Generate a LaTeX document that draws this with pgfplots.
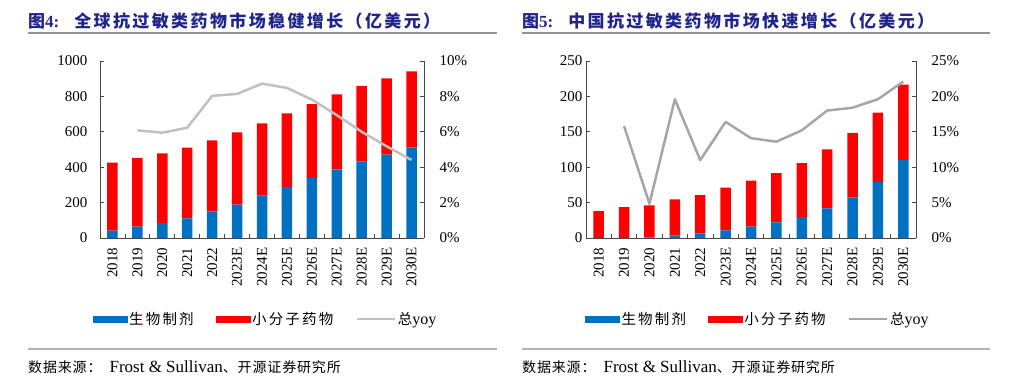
\documentclass[border=0pt]{standalone}
\usepackage{fontspec}
\setmainfont{Liberation Serif}
\newfontfamily\cjkt[LetterSpace=14]{Noto Sans CJK SC}
\newfontfamily\cjkl[LetterSpace=15]{Noto Sans CJK SC}
\newfontfamily\cjks[LetterSpace=6]{Noto Sans CJK SC}
\usepackage{pgfplots}
\pgfplotsset{compat=1.18}
\definecolor{bblue}{RGB}{0,112,192}
\definecolor{rred}{RGB}{255,0,0}
\definecolor{lgray}{RGB}{192,192,192}
\definecolor{dgray}{RGB}{166,166,166}
\definecolor{ttl}{RGB}{32,36,140}
\definecolor{axc}{RGB}{70,70,70}
\pgfplotsset{
  base/.style={scale only axis, xmin=-0.5, xmax=12.5,
    axis line style={axc, line width=0.8pt},
    tick style={axc, line width=0.8pt},
    major tick length=4pt, minor tick length=4pt, tick align=inside,
    tick label style={font=\fontsize{15}{17}\selectfont},
    /pgf/number format/assume math mode=true,
    /pgf/number format/1000 sep={},
    clip=false},
  barax/.style={base, axis y line*=left, axis x line*=bottom,
    ybar stacked, bar width=10.5pt,
    xtick={0,...,12},
    xticklabels={2018,2019,2020,2021,2022,2023E,2024E,2025E,2026E,2027E,2028E,2029E,2030E},
    xticklabel style={yshift=-6pt, rotate=90, anchor=east},
    major x tick style={draw=none},
    minor xtick={-0.5,0.5,...,12.5},
    legend style={draw=none, fill=none, legend columns=3,
      font=\fontsize{14.5}{16}\selectfont,
      nodes={inner sep=2pt},
      /tikz/every even column/.append style={column sep=20pt}}},
  lineax/.style={base, axis y line*=right, axis x line=none,
    yticklabel={\pgfmathprintnumber{\tick}\%},
    yticklabel style={xshift=12pt}},
}
\begin{document}
\begin{tikzpicture}[x=1pt,y=1pt]
\useasboundingbox (0pt,0pt) rectangle (1018pt,387pt);
% titles
\node[anchor=west, inner sep=0, text=ttl, font=\fontsize{17}{20}\selectfont] at (28pt,366pt)
  {{\cjkt\bfseries 图}{\rmfamily\bfseries 4:}\hspace{15pt}{\cjkt\bfseries 全球抗过敏类药物市场稳健增长（亿美元）}};
\node[anchor=west, inner sep=0, text=ttl, font=\fontsize{17}{20}\selectfont] at (522pt,366pt)
  {{\cjkt\bfseries 图}{\rmfamily\bfseries 5:}\hspace{15pt}{\cjkt\bfseries 中国抗过敏类药物市场快速增长（亿美元）}};
\draw[gray!85, line width=2pt] (28pt,354pt) -- (497pt,354pt);
\draw[gray!85, line width=2pt] (522pt,354pt) -- (990pt,354pt);
\draw[gray!60, line width=1.4pt] (28pt,38pt) -- (497pt,38pt);
\draw[gray!60, line width=1.4pt] (522pt,38pt) -- (990pt,38pt);
\node[anchor=west, inner sep=0, font=\fontsize{17}{19}\selectfont] at (28pt,20pt)
  {{\fontsize{14}{16}\selectfont\cjks 数据来源：}\hspace{8pt}Frost \& Sullivan{\fontsize{14}{16}\selectfont\cjks 、开源证券研究所}};
\node[anchor=west, inner sep=0, font=\fontsize{17}{19}\selectfont] at (522pt,20pt)
  {{\fontsize{14}{16}\selectfont\cjks 数据来源：}\hspace{8pt}Frost \& Sullivan{\fontsize{14}{16}\selectfont\cjks 、开源证券研究所}};

% ---------- left chart ----------
\begin{axis}[barax, at={(100pt,149pt)}, anchor=south west, width=324pt, height=177pt,
  ymin=0, ymax=1000, ytick={0,200,...,1000}, yticklabel style={xshift=-9pt},
  legend style={at={(0.511,-0.458)}, anchor=center}]
\addplot[fill=bblue, draw=none, forget plot] coordinates {
(0,41) (1,64) (2,86) (3,111) (4,150) (5,188) (6,240) (7,289) (8,338) (9,388) (10,433) (11,471) (12,510)};
\addplot[fill=rred, draw=none, forget plot] coordinates {
(0,385) (1,388) (2,392) (3,399) (4,402) (5,409) (6,407) (7,415) (8,418) (9,423) (10,426) (11,431) (12,432)};
\addlegendimage{legend image code/.code={\fill[bblue] (0pt,-3pt) rectangle (34pt,3pt);}}
\addlegendentry{\cjkl 生物制剂}
\addlegendimage{legend image code/.code={\fill[rred] (0pt,-3pt) rectangle (34pt,3pt);}}
\addlegendentry{\cjkl 小分子药物}
\addlegendimage{legend image code/.code={\draw[lgray, line width=2.5pt] (0pt,0pt) -- (38pt,0pt);}}
\addlegendentry{{\cjkl 总}{\fontsize{16}{17}\selectfont yoy}}
\end{axis}
\begin{axis}[lineax, at={(100pt,149pt)}, anchor=south west, width=324pt, height=177pt,
  ymin=0, ymax=10, ytick={0,2,...,10}]
\addplot[lgray, line width=2.5pt, line join=round, mark=none] coordinates {
(1,6.08) (2,5.95) (3,6.23) (4,8.03) (5,8.14) (6,8.72) (7,8.48) (8,7.82) (9,6.94) (10,6.0) (11,5.18) (12,4.41)};
\end{axis}

% ---------- right chart ----------
\begin{axis}[barax, at={(586pt,149pt)}, anchor=south west, width=330pt, height=177pt,
  ymin=0, ymax=250, ytick={0,50,...,250}, yticklabel style={xshift=0pt},
  legend style={at={(0.521,-0.458)}, anchor=center}]
\addplot[fill=bblue, draw=none, forget plot] coordinates {
(0,0.2) (1,0.3) (2,0.5) (3,3.8) (4,6.6) (5,10.8) (6,16) (7,22) (8,29.6) (9,42) (10,57) (11,79) (12,110)};
\addplot[fill=rred, draw=none, forget plot] coordinates {
(0,37.8) (1,43.4) (2,45.5) (3,50.7) (4,54) (5,60.2) (6,65) (7,69.6) (8,76.1) (9,83) (10,91.5) (11,98) (12,106.6)};
\addlegendimage{legend image code/.code={\fill[bblue] (0pt,-3pt) rectangle (34pt,3pt);}}
\addlegendentry{\cjkl 生物制剂}
\addlegendimage{legend image code/.code={\fill[rred] (0pt,-3pt) rectangle (34pt,3pt);}}
\addlegendentry{\cjkl 小分子药物}
\addlegendimage{legend image code/.code={\draw[dgray, line width=2.5pt] (0pt,0pt) -- (38pt,0pt);}}
\addlegendentry{{\cjkl 总}{\fontsize{16}{17}\selectfont yoy}}
\end{axis}
\begin{axis}[lineax, at={(586pt,149pt)}, anchor=south west, width=330pt, height=177pt,
  ymin=0, ymax=25, ytick={0,5,...,25}]
\addplot[dgray, line width=2.5pt, line join=round, mark=none] coordinates {
(1,15.8) (2,4.84) (3,19.6) (4,11.0) (5,16.4) (6,14.1) (7,13.6) (8,15.2) (9,18.0) (10,18.4) (11,19.6) (12,22.1)};
\end{axis}
\end{tikzpicture}
\end{document}
